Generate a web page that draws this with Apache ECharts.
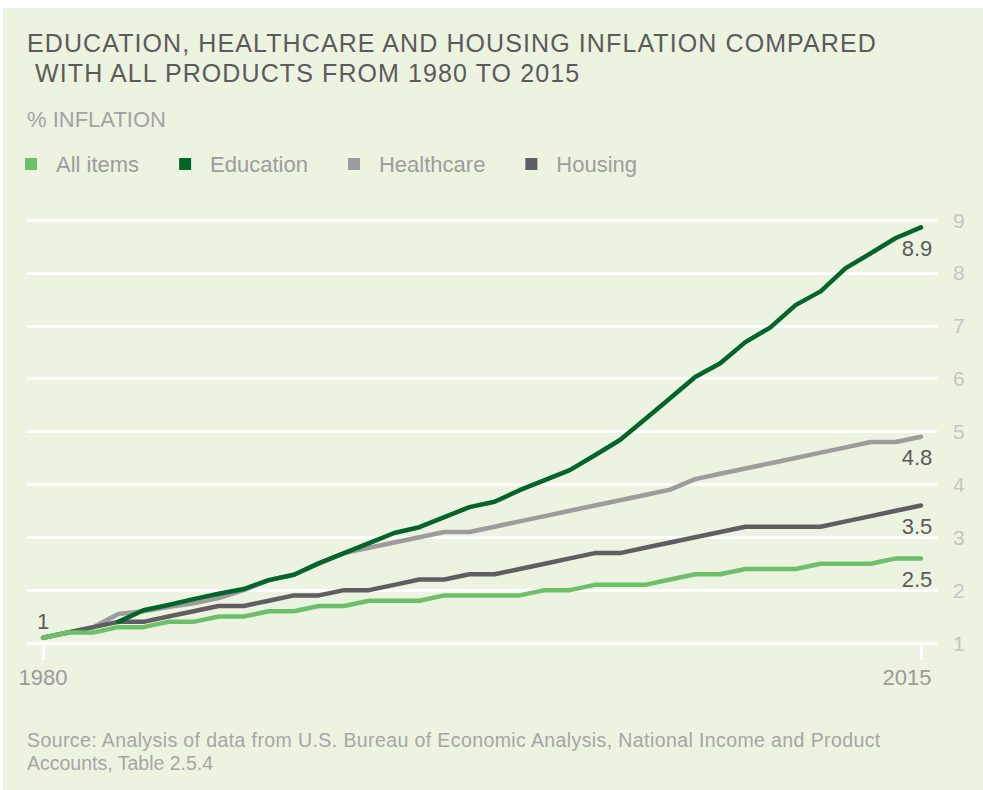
<!DOCTYPE html>
<html>
<head>
<meta charset="utf-8">
<script src="https://cdn.jsdelivr.net/npm/echarts@6/dist/echarts.min.js"></script>
<style>
	html, body { margin: 0; padding: 0; background: #ffffff; }
	#chart { position: absolute; left: 3px; top: 8px; width: 980px; height: 782px; }
	#chart text { white-space: pre; }
</style>
</head>
<body>
<div id="chart"></div>
<script>
var years = [1980, 1981, 1982, 1983, 1984, 1985, 1986, 1987, 1988, 1989, 1990, 1991,
	1992, 1993, 1994, 1995, 1996, 1997, 1998, 1999, 2000, 2001, 2002, 2003,
	2004, 2005, 2006, 2007, 2008, 2009, 2010, 2011, 2012, 2013, 2014, 2015];

var allItems = [1.1, 1.2, 1.2, 1.3, 1.3, 1.4, 1.4, 1.5, 1.5, 1.6, 1.6, 1.7,
	1.7, 1.8, 1.8, 1.8, 1.9, 1.9, 1.9, 1.9, 2.0, 2.0, 2.1, 2.1,
	2.1, 2.2, 2.3, 2.3, 2.4, 2.4, 2.4, 2.5, 2.5, 2.5, 2.6, 2.6];

var education = [null, null, null, 1.4, 1.62, 1.72, 1.83, 1.93, 2.02, 2.19, 2.29, 2.51,
	2.7, 2.89, 3.08, 3.19, 3.38, 3.57, 3.67, 3.89, 4.08, 4.27, 4.55, 4.84,
	5.23, 5.63, 6.03, 6.29, 6.69, 6.97, 7.39, 7.65, 8.09, 8.37, 8.66, 8.86];

var healthcare = [1.1, 1.2, 1.3, 1.55, 1.6, 1.68, 1.75, 1.85, 2.0, 2.19, 2.29, 2.5,
	2.7, 2.8, 2.9, 3.0, 3.1, 3.1, 3.2, 3.3, 3.4, 3.5, 3.6, 3.7,
	3.8, 3.9, 4.1, 4.2, 4.3, 4.4, 4.5, 4.6, 4.7, 4.8, 4.8, 4.9];

var housing = [1.1, 1.2, 1.3, 1.4, 1.4, 1.5, 1.6, 1.7, 1.7, 1.8, 1.9, 1.9,
	2.0, 2.0, 2.1, 2.2, 2.2, 2.3, 2.3, 2.4, 2.5, 2.6, 2.7, 2.7,
	2.8, 2.9, 3.0, 3.1, 3.2, 3.2, 3.2, 3.2, 3.3, 3.4, 3.5, 3.6];

var legendNames = ['All items', 'Education', 'Healthcare', 'Housing'];
var endLabels = {'All items': '2.5', 'Education': '8.9', 'Healthcare': '4.8', 'Housing': '3.5'};
var startLabel = '1';
var xTickYears = [1980, 2015];

var titleText = 'EDUCATION, HEALTHCARE AND HOUSING INFLATION COMPARED\n WITH ALL PRODUCTS FROM 1980 TO 2015';
var subText = '% INFLATION';
var sourceText = 'Source: Analysis of data from U.S. Bureau of Economic Analysis, National Income and Product\nAccounts, Table 2.5.4';

var fontFamily = '"Liberation Sans", Arial, sans-serif';

(function() {
	var dom = document.getElementById('chart');
	var myChart = echarts.init(dom, null, { renderer: 'svg' });

	function points(name, values, withStart) {
		return years.map(function(y, i) {
			var item = { value: [y, values[i]] };
			if (i === years.length - 1) {
				item.label = {
					show: true,
					formatter: endLabels[name],
					position: 'bottom',
					distance: 10,
					offset: [-4, 0],
					fontSize: 22,
					color: '#5b5b5b'
				};
			} else if (withStart && i === 0) {
				item.label = {
					show: true,
					formatter: startLabel,
					position: 'top',
					distance: 5,
					fontSize: 22,
					color: '#5b5b5b'
				};
			}
			return item;
		});
	}

	function line(name, values, color, withStart) {
		return {
			name: name,
			type: 'line',
			data: points(name, values, withStart),
			symbol: 'circle',
			symbolSize: 0,
			showSymbol: true,
			silent: true,
			itemStyle: { color: color },
			lineStyle: { color: color, width: 4.5, cap: 'round', join: 'round' }
		};
	}

	option = {
		backgroundColor: '#ecf3e0',
		animation: false,
		textStyle: { fontFamily: fontFamily },
		title: [{
			text: titleText,
			left: 24,
			top: 20,
			padding: 0,
			textStyle: {
				fontSize: 25,
				fontWeight: 'normal',
				color: '#5b5b5b',
				lineHeight: 30,
				fontFamily: fontFamily
			}
		}, {
			text: subText,
			left: 24,
			top: 100,
			padding: 0,
			textStyle: {
				fontSize: 22,
				fontWeight: 'normal',
				color: '#a3a3a3',
				lineHeight: 22,
				fontFamily: fontFamily
			}
		}, {
			text: sourceText,
			left: 24,
			top: 720,
			padding: 0,
			textStyle: {
				fontSize: 19.5,
				fontWeight: 'normal',
				color: '#a6a6a6',
				lineHeight: 23,
				fontFamily: fontFamily
			}
		}],
		legend: {
			data: legendNames,
			left: 22,
			top: 145,
			padding: 0,
			icon: 'rect',
			itemWidth: 12,
			itemHeight: 12,
			itemGap: 40,
			selectedMode: false,
			textStyle: {
				fontSize: 22,
				color: '#9d9d9d',
				padding: [0, 0, 0, 14]
			}
		},
		grid: {
			left: 24,
			right: 46,
			top: 212,
			bottom: 147,
			containLabel: false,
			outerBoundsMode: 'none'
		},
		xAxis: {
			type: 'value',
			min: 1979.36,
			max: 2015.64,
			splitLine: { show: false },
			axisLine: { show: false },
			axisTick: {
				show: true,
				customValues: xTickYears,
				length: 17,
				lineStyle: { color: '#ffffff', width: 3 }
			},
			axisLabel: {
				customValues: xTickYears,
				margin: 23,
				fontSize: 22,
				color: '#9b9b9b',
				formatter: function(v) {
					// last label sits a little left of its tick, as in the print
					return v === xTickYears[1] ? '{r|' + v + '}' : String(v);
				},
				rich: {
					r: { fontSize: 22, color: '#9b9b9b', padding: [0, 28, 0, 0] }
				}
			}
		},
		yAxis: {
			type: 'value',
			position: 'right',
			min: 1,
			max: 9,
			interval: 1,
			axisLine: { show: false },
			axisTick: { show: false },
			splitLine: { lineStyle: { color: '#ffffff', width: 3 } },
			axisLabel: {
				margin: 16,
				fontSize: 21,
				color: '#c4c7c3'
			}
		},
		series: [
			line('Healthcare', healthcare, '#9c9c9c', false),
			line('Housing', housing, '#5f5f63', false),
			line('All items', allItems, '#6cc06a', true),
			line('Education', education, '#04652a', false)
		]
	};

	// the print uses tracked type for the title and source lines
	function track() {
		var texts = dom.querySelectorAll('text');
		for (var i = 0; i < texts.length; i++) {
			var t = texts[i].textContent;
			if (t.indexOf('EDUCATION') === 0 || t.indexOf(' WITH') === 0) {
				texts[i].style.letterSpacing = '1.1px';
			} else if (t.indexOf('Source') === 0) {
				texts[i].style.letterSpacing = '0.4px';
			}
		}
	}

	myChart.on('finished', track);
	myChart.setOption(option);
	track();
})();
</script>
</body>
</html>
